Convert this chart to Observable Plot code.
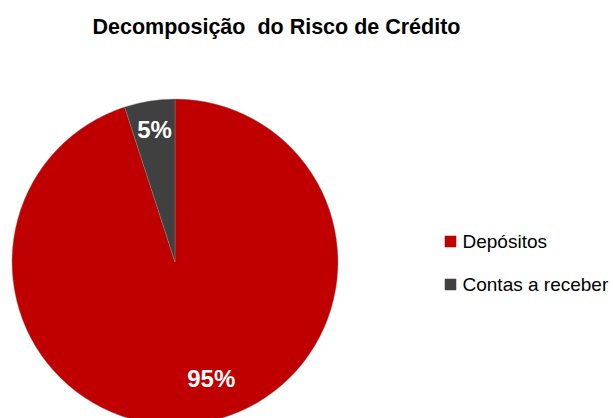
<!DOCTYPE html>
<html>
<head>
<meta charset="utf-8">
<script src="https://cdn.jsdelivr.net/npm/d3@7"></script>
<script src="https://cdn.jsdelivr.net/npm/@observablehq/plot@0.6"></script>
<style>
  html, body { margin: 0; padding: 0; background: #fff; }
  body { width: 613px; height: 418px; overflow: hidden; font-family: "Liberation Sans", Arial, sans-serif; }
  #title { height: 55px; width: 553px; text-align: center; font-weight: bold; font-size: 21.5px; line-height: 22px; padding-top: 16px; box-sizing: border-box; color: #000; }
  #chart svg { display: block; }
</style>
</head>
<body>
<div id="title">Decomposição&nbsp; do Risco de Crédito</div>
<div id="chart"></div>
<script>
const categories = ["Depósitos", "Contas a receber"];
const values = [95, 5];
const labels = ["95%", "5%"];
const colors = ["#C00000", "#404040"];

const W = 613, H = 363;
const cx = 175, cy = 207, R = 163;

const data = categories.map((c, i) => ({category: c, value: values[i], label: labels[i]}));
const arcs = d3.pie().sort(null).value(d => d.value).startAngle(0).endAngle(2 * Math.PI)(data);

// label positions from slice mid-angles
const labelData = arcs.map(a => {
  const mid = (a.startAngle + a.endAngle) / 2;
  const k = a.data.value > 50 ? 0.75 : 0.82;
  const shift = a.data.value > 50 ? -0.14 : 0;
  const ang = mid + shift;
  return {x: cx + k * R * Math.sin(ang), y: cy - k * R * Math.cos(ang), label: a.data.label};
});

const legendData = categories.map((c, i) => ({category: c, x: 450, y: 186 + i * 43}));

const pieMark = (index, scales) => {
  const g = d3.create("svg:g");
  const px = scales.x(cx), py = scales.y(cy);
  const r = scales.x(cx + R) - px;
  const arcGen = d3.arc().innerRadius(0).outerRadius(r);
  g.selectAll("path").data(arcs).join("path")
    .attr("transform", `translate(${px},${py})`)
    .attr("d", arcGen)
    .attr("fill", d => scales.color(d.data.category))
    .attr("stroke", "#8a8a8a")
    .attr("stroke-width", 0.4);
  return g.node();
};

const chart = Plot.plot({
  width: W,
  height: H,
  margin: 0,
  style: {fontFamily: '"Liberation Sans", Arial, sans-serif', background: "#fff"},
  x: {domain: [0, W], range: [0, W], axis: null},
  y: {domain: [0, H], range: [0, H], axis: null},
  color: {domain: categories, range: colors},
  marks: [
    pieMark,
    Plot.text(labelData, {x: "x", y: "y", text: "label", fill: "#fff", fontSize: 24, fontWeight: "bold"}),
    Plot.dot(legendData, {x: "x", y: "y", symbol: "square", r: 6.5, fill: "category", stroke: null}),
    Plot.text(legendData, {x: d => d.x + 12, y: "y", text: "category", textAnchor: "start", fontSize: 19, fill: "#000"})
  ]
});
document.getElementById("chart").appendChild(chart);
</script>
</body>
</html>
